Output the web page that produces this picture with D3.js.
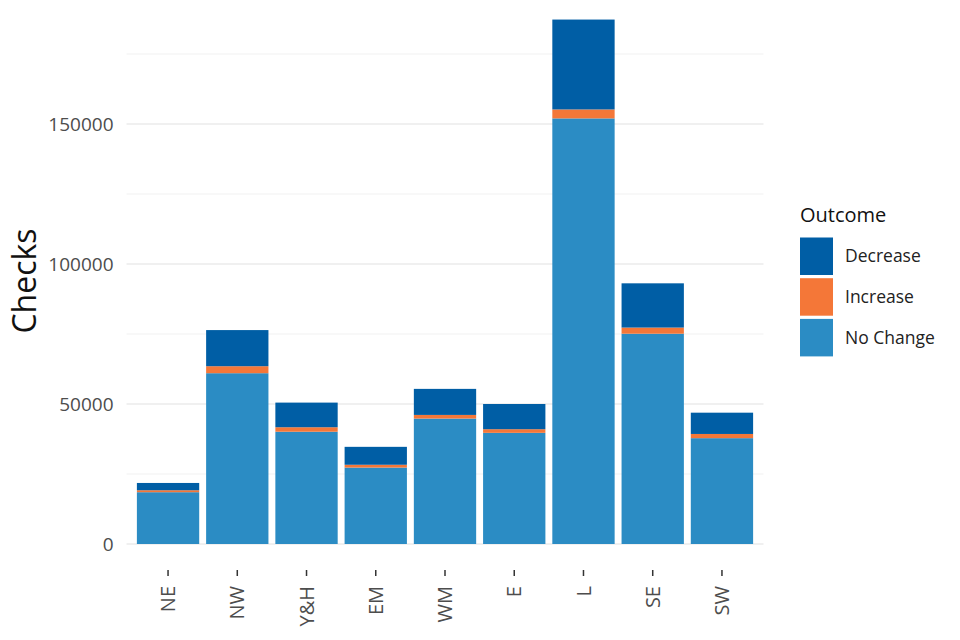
<!DOCTYPE html>
<html><head><meta charset="utf-8">
<script src="https://cdn.jsdelivr.net/npm/d3@7"></script>
<style>body{margin:0;background:#fff;} svg{display:block;font-family:"Open Sans",sans-serif;}</style>
</head><body>
<svg id="chart" width="960" height="640"></svg>
<script>
const regions = ["NE","NW","Y&H","EM","WM","E","L","SE","SW"];
const noChange = [18500, 61000, 40100, 27300, 44800, 39700, 152000, 75100, 37800];
const increase = [700, 2500, 1600, 1000, 1300, 1300, 3200, 2200, 1500];
const decrease = [2600, 12900, 8800, 6400, 9300, 9000, 32100, 15800, 7600];
const outcomes = ["Decrease","Increase","No Change"];
const colours = ["#005ea5","#f47738","#2b8cc4"];
const yTicks = [0, 50000, 100000, 150000];
const yMinor = [25000, 75000, 125000, 175000];

const svg = d3.select("#chart");
const x = d3.scaleBand().domain(regions).range([126.5, 763.5]).paddingInner(0.1).paddingOuter(0.15);
const y = d3.scaleLinear().domain([0, 150000]).range([544, 124]);
const colour = d3.scaleOrdinal().domain(outcomes).range(colours);

const rows = regions.map((r,i)=>({region:r, "No Change":noChange[i], "Increase":increase[i], "Decrease":decrease[i]}));
const stack = d3.stack().keys(["No Change","Increase","Decrease"])(rows);

// gridlines
svg.append("g").selectAll("line").data(yMinor).join("line")
  .attr("x1",126.5).attr("x2",763.5).attr("y1",d=>y(d)).attr("y2",d=>y(d))
  .attr("stroke","#f2f2f2").attr("stroke-width",1.2);
svg.append("g").selectAll("line").data(yTicks).join("line")
  .attr("x1",126.5).attr("x2",763.5).attr("y1",d=>y(d)).attr("y2",d=>y(d))
  .attr("stroke","#ebebeb").attr("stroke-width",1.6);

// bars
svg.append("g").selectAll("g").data(stack).join("g")
  .attr("fill", d=>colour(d.key))
  .selectAll("rect").data(d=>d).join("rect")
  .attr("x", d=>x(d.data.region)).attr("width", x.bandwidth())
  .attr("y", d=>y(d[1])).attr("height", d=>y(d[0])-y(d[1]));

// y axis
const yAxis = svg.append("g").attr("transform","translate(126.5,0)")
  .call(d3.axisLeft(y).tickValues(yTicks).tickSize(0).tickPadding(13).tickFormat(d3.format("d")));
yAxis.select(".domain").remove();
yAxis.selectAll("text").attr("fill","#4d4d4d").style("font-size","19px").style("font-family","Open Sans");

// x axis
const xAxis = svg.append("g").attr("transform","translate(0,570)")
  .call(d3.axisBottom(x).tickSize(6).tickPadding(6));
xAxis.select(".domain").remove();
xAxis.selectAll(".tick line").attr("stroke","#333").attr("stroke-width",1.5);
xAxis.selectAll("text").attr("fill","#4d4d4d").style("font-size","20px").style("font-family","Open Sans")
  .attr("transform","rotate(-90)").attr("text-anchor","end").attr("x",-16).attr("y",0).attr("dy","0.36em");

// y title
svg.append("text").attr("transform","translate(36,281) rotate(-90)").attr("text-anchor","middle")
  .style("font-size","32px").attr("fill","#111").text("Checks");

// legend
const lg = svg.append("g").attr("transform","translate(800,0)");
lg.append("text").attr("x",0).attr("y",222).style("font-size","20px").attr("fill","#111").text("Outcome");
const items = lg.selectAll("g.item").data(outcomes).join("g").attr("class","item")
  .attr("transform",(d,i)=>`translate(0,${237.5 + i*40.7})`);
items.append("rect").attr("width",33).attr("height",37.5).attr("fill",d=>colour(d));
items.append("text").attr("x",45).attr("y",18.75).attr("dy","0.35em").style("font-size","17.5px").attr("fill","#222").text(d=>d);
</script>
</body></html>
